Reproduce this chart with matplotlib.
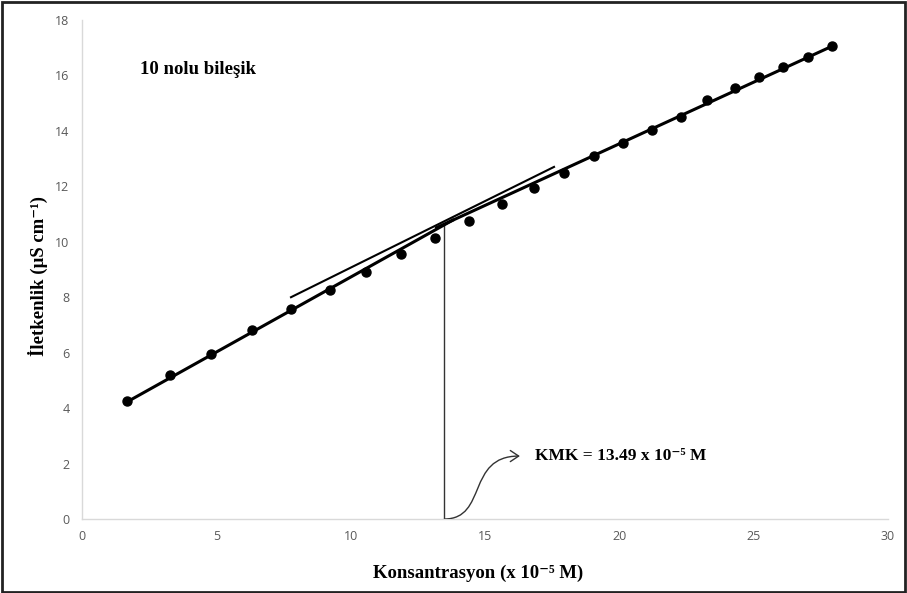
import numpy as np
import matplotlib
matplotlib.use("Agg")
import matplotlib.pyplot as plt
from matplotlib.path import Path
from matplotlib.patches import FancyArrowPatch, Rectangle

# Data (concentration x 10^-5 M, conductivity µS cm^-1)
conc = [1.67, 3.27, 4.80, 6.33, 7.78, 9.23, 10.57, 11.87, 13.14, 14.40, 15.63,
        16.82, 17.94, 19.05, 20.13, 21.21, 22.29, 23.26, 24.30, 25.20, 26.09,
        27.02, 27.91]
cond = [4.25, 5.18, 5.95, 6.80, 7.57, 8.25, 8.90, 9.55, 10.15, 10.75, 11.35,
        11.95, 12.48, 13.08, 13.58, 14.02, 14.50, 15.10, 15.55, 15.95, 16.32,
        16.68, 17.05]
# Trend lines (below / above CMC) and helper tangent line
line1_x = [1.67, 13.80]
line1_y = [4.22, 10.78]
line2_x = [13.20, 27.91]
line2_y = [10.51, 17.05]
tangent_x = [7.78, 17.57]
tangent_y = [8.00, 12.70]
cmc = 13.49
cmc_y = 10.64
xticks = [0, 5, 10, 15, 20, 25, 30]
yticks = [0, 2, 4, 6, 8, 10, 12, 14, 16, 18]

fig = plt.figure(figsize=(9.07, 5.93), dpi=100)
ax = fig.add_axes([0.0904, 0.1248, 0.8886, 0.8415])

ax.plot(line1_x, line1_y, color='black', lw=2.2, zorder=3)
ax.plot(line2_x, line2_y, color='black', lw=2.2, zorder=3)
ax.plot(conc, cond, 'o', color='black', ms=6.5, zorder=4)
ax.plot(tangent_x, tangent_y, color='black', lw=1.5, zorder=3)
ax.plot([cmc, cmc], [0, cmc_y], color='#333333', lw=1.0, zorder=2)

# curved arrow
verts = [(cmc, 0.0), (15.1, 0.0), (14.3, 2.27), (16.3, 2.27)]
codes = [Path.MOVETO, Path.CURVE4, Path.CURVE4, Path.CURVE4]
arr = FancyArrowPatch(path=Path(verts, codes), arrowstyle='->,head_length=6,head_width=4',
                      color='#333333', lw=1.0, zorder=5)
ax.add_patch(arr)

serif = ['Liberation Serif', 'DejaVu Serif']
ax.text(16.85, 2.27, 'KMK = 13.49 x 10⁻⁵ M', family=serif, fontweight='bold',
        fontsize=12.5, va='center', ha='left', color='black')
ax.text(2.15, 16.2, '10 nolu bileşik', family=serif, fontweight='bold',
        fontsize=13.5, va='center', ha='left', color='black')

ax.set_xlim(0, 30)
ax.set_ylim(0, 18)
ax.set_xticks(xticks)
ax.set_yticks(yticks)
ax.tick_params(length=0, labelsize=9, colors='#595959')
for lab in ax.get_xticklabels() + ax.get_yticklabels():
    lab.set_family('Open Sans')
ax.tick_params(axis='x', pad=8)
ax.tick_params(axis='y', pad=9)
for s in ['top', 'right']:
    ax.spines[s].set_visible(False)
for s in ['left', 'bottom']:
    ax.spines[s].set_color('#d9d9d9')
    ax.spines[s].set_linewidth(1.0)

fig.text(0.527, 1 - 573 / 593, 'Konsantrasyon (x 10⁻⁵ M)', family=serif,
         fontweight='bold', fontsize=13.5, ha='center', va='center')
fig.text(38 / 907, 1 - 276 / 593, 'İletkenlik (µS cm⁻¹)', family=serif,
         fontweight='bold', fontsize=13.5, ha='center', va='center', rotation=90)

fig.patches.append(Rectangle((0.002, 0.002), 0.996, 0.994, transform=fig.transFigure,
                             fill=False, edgecolor='#222222', lw=2.0))

fig.savefig('out.png', dpi=100)
